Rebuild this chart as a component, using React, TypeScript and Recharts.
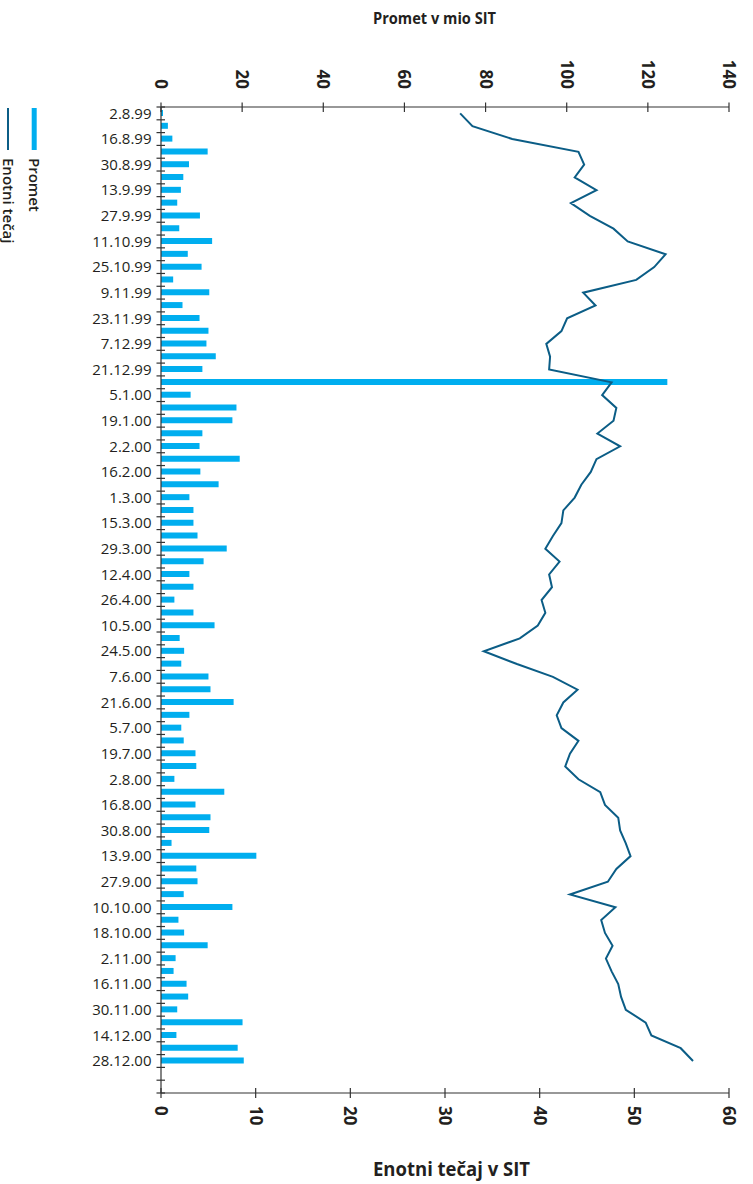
import React from "react";
import { ComposedChart, Bar, Line, XAxis, YAxis } from "recharts";

// weekly dates (every other one is labelled on the axis)
const dates = [
  "2.8.99", "9.8.99", "16.8.99", "23.8.99", "30.8.99", "6.9.99", "13.9.99", "20.9.99",
  "27.9.99", "4.10.99", "11.10.99", "18.10.99", "25.10.99", "2.11.99", "9.11.99", "16.11.99",
  "23.11.99", "30.11.99", "7.12.99", "14.12.99", "21.12.99", "28.12.99", "5.1.00", "12.1.00",
  "19.1.00", "26.1.00", "2.2.00", "9.2.00", "16.2.00", "23.2.00", "1.3.00", "8.3.00",
  "15.3.00", "22.3.00", "29.3.00", "5.4.00", "12.4.00", "19.4.00", "26.4.00", "3.5.00",
  "10.5.00", "17.5.00", "24.5.00", "31.5.00", "7.6.00", "14.6.00", "21.6.00", "28.6.00",
  "5.7.00", "12.7.00", "19.7.00", "26.7.00", "2.8.00", "9.8.00", "16.8.00", "23.8.00",
  "30.8.00", "6.9.00", "13.9.00", "20.9.00", "27.9.00", "4.10.00", "10.10.00", "13.10.00",
  "18.10.00", "25.10.00", "2.11.00", "9.11.00", "16.11.00", "23.11.00", "30.11.00", "7.12.00",
  "14.12.00", "21.12.00", "28.12.00",
];

// Promet v mio SIT
const promet = [
  0.5, 1.7, 2.8, 11.5, 6.9, 5.5, 4.9, 4.0, 9.6, 4.5, 12.6, 6.6, 10.0, 3.0, 11.9,
  5.3, 9.5, 11.7, 11.2, 13.5, 10.2, 124.8, 7.3, 18.6, 17.6, 10.2, 9.5, 19.4, 9.7, 14.2,
  7.0, 8.0, 8.0, 9.0, 16.2, 10.5, 7.0, 8.0, 3.3, 8.0, 13.2, 4.6, 5.7, 5.0, 11.7, 12.2,
  17.9, 7.0, 5.0, 5.6, 8.5, 8.7, 3.3, 15.6, 8.5, 12.2, 11.9, 2.6, 23.5, 8.7, 9.0,
  5.6, 17.6, 4.3, 5.7, 11.5, 3.6, 3.1, 6.3, 6.7, 4.0, 20.1, 3.8, 18.9, 20.4,
];

// Enotni tečaj v SIT
const tecaj = [
  31.6, 32.9, 37.1, 44.1, 44.7, 43.7, 46.0, 43.3, 45.3, 47.8, 49.3, 53.3, 52.1, 50.2, 44.6,
  45.9, 42.9, 42.3, 40.7, 41.1, 41.0, 47.6, 46.6, 48.1, 47.8, 46.1, 48.5, 46.0, 45.4, 44.4,
  43.7, 42.5, 42.3, 41.4, 40.6, 42.1, 41.0, 41.3, 40.2, 40.6, 39.8, 37.9, 34.1, 37.6, 41.4, 44.0,
  42.5, 41.8, 42.3, 44.1, 43.2, 42.7, 44.1, 46.4, 46.9, 48.3, 48.5, 49.1, 49.6, 48.1, 47.2,
  43.2, 48.0, 46.5, 46.9, 47.7, 47.0, 47.6, 48.3, 48.6, 49.1, 51.2, 51.8, 54.9, 56.2,
];

const prometTicks = [0, 20, 40, 60, 80, 100, 120, 140];
const tecajTicks = [0, 10, 20, 30, 40, 50, 60];

const W = 753;
const H = 1184;
const X_AXIS_H = 1;
const M = { top: 106, right: 24, bottom: 90, left: 0 };
const Y_AXIS_W = 161;
const AXIS_X = M.left + Y_AXIS_W;
const PLOT_TOP = M.top + X_AXIS_H;
const PLOT_BOTTOM = H - M.bottom - X_AXIS_H;
const ROWS = dates.length + 2; // two empty slots after the last week
const BAND = (PLOT_BOTTOM - PLOT_TOP) / ROWS;

const BAR_COLOR = "#00aeef";
const LINE_COLOR = "#0b5d86";
const AXIS = "#333333";
const TEXT = "#231f20";
const FONT = "'Open Sans', 'Noto Sans', sans-serif";

const data = [
  ...dates.map((d, i) => ({ date: d, promet: promet[i], tecaj: tecaj[i] })),
  { date: " ", promet: null, tecaj: null },
  { date: "  ", promet: null, tecaj: null },
];

function DateTick(props: any) {
  const { y, payload } = props;
  const i = props.index ?? payload.index;
  const top = y - BAND / 2;
  return (
    <g>
      <line x1={AXIS_X - 4.5} x2={AXIS_X + 4} y1={top} y2={top} stroke={AXIS} strokeWidth={1.2} />
      {i === ROWS - 1 && (
        <line x1={AXIS_X - 4.5} x2={AXIS_X + 4} y1={y + BAND / 2} y2={y + BAND / 2} stroke={AXIS} strokeWidth={1.2} />
      )}
      {i % 2 === 0 && i < dates.length && (
        <text x={AXIS_X - 9.5} y={y} dy="0.35em" textAnchor="end" fontSize={15} fontFamily={FONT} fill={TEXT}>
          {payload.value}
        </text>
      )}
    </g>
  );
}

function TopTick(props: any) {
  const { x, payload } = props;
  return (
    <g>
      <line x1={x} x2={x} y1={PLOT_TOP - 4.5} y2={PLOT_TOP + 5} stroke={AXIS} strokeWidth={1.2} />
      <text
        transform={`translate(${x},${PLOT_TOP - 18}) rotate(90)`}
        dy="0.35em"
        textAnchor="end"
        fontSize={17}
        fontWeight={700}
        fontFamily={FONT}
        fill={TEXT}
      >
        {payload.value}
      </text>
    </g>
  );
}

function BottomTick(props: any) {
  const { x, payload } = props;
  return (
    <g>
      <line x1={x} x2={x} y1={PLOT_BOTTOM - 5} y2={PLOT_BOTTOM + 5} stroke={AXIS} strokeWidth={1.2} />
      <text
        transform={`translate(${x},${PLOT_BOTTOM + 13}) rotate(90)`}
        dy="0.35em"
        textAnchor="start"
        fontSize={17}
        fontWeight={700}
        fontFamily={FONT}
        fill={TEXT}
      >
        {payload.value}
      </text>
    </g>
  );
}

export default function App() {
  return (
    <div style={{ position: "absolute", left: 0, top: 0, width: W, height: H, background: "#fff" }}>
      <ComposedChart layout="vertical" width={W} height={H} data={data} margin={M}>
        <XAxis
          xAxisId="top"
          type="number"
          orientation="top"
          domain={[0, 140]}
          ticks={prometTicks}
          height={X_AXIS_H}
          tickLine={false}
          axisLine={{ stroke: AXIS, strokeWidth: 1.2 }}
          tick={<TopTick />}
        />
        <XAxis
          xAxisId="bottom"
          type="number"
          orientation="bottom"
          domain={[0, 60]}
          ticks={tecajTicks}
          height={X_AXIS_H}
          tickLine={false}
          axisLine={{ stroke: AXIS, strokeWidth: 1.2 }}
          tick={<BottomTick />}
        />
        <YAxis
          type="category"
          dataKey="date"
          width={Y_AXIS_W}
          interval={0}
          tickLine={false}
          axisLine={{ stroke: AXIS, strokeWidth: 1.2 }}
          tick={<DateTick />}
        />
        <Bar xAxisId="top" dataKey="promet" name="Promet" fill={BAR_COLOR} barSize={6} isAnimationActive={false} />
        <Line
          xAxisId="bottom"
          dataKey="tecaj"
          name="Enotni tečaj"
          type="linear"
          stroke={LINE_COLOR}
          strokeWidth={2}
          dot={false}
          activeDot={false}
          isAnimationActive={false}
        />
      </ComposedChart>
      <svg
        width={W}
        height={H}
        style={{ position: "absolute", left: 0, top: 0, pointerEvents: "none" }}
        fontFamily={FONT}
      >
        <text x={373} y={24} fontSize={15.5} fontWeight={700} fill={TEXT} textLength={123} lengthAdjust="spacingAndGlyphs">
          Promet v mio SIT
        </text>
        <text x={373} y={1176} fontSize={20} fontWeight={700} fill={TEXT} textLength={157} lengthAdjust="spacingAndGlyphs">
          Enotni tečaj v SIT
        </text>
        {/* legend */}
        <rect x={31.7} y={108} width={5} height={42} fill={BAR_COLOR} />
        <text transform="translate(34.2,158) rotate(90)" dy="0.35em" fontSize={15} fontWeight={600} fill={TEXT}>
          Promet
        </text>
        <line x1={8} x2={8} y1={108} y2={150} stroke={LINE_COLOR} strokeWidth={2} />
        <text transform="translate(8.5,158) rotate(90)" dy="0.35em" fontSize={15} fontWeight={600} fill={TEXT}>
          Enotni tečaj
        </text>
      </svg>
    </div>
  );
}
